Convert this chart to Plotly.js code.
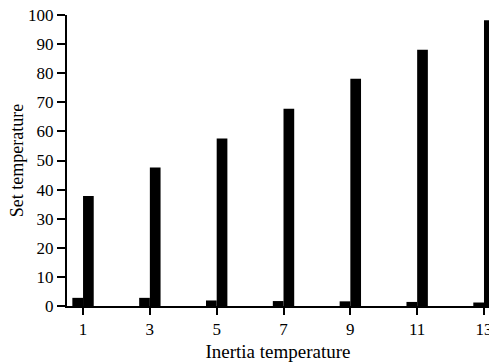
<!DOCTYPE html>
<html>
<head>
<meta charset="utf-8">
<script src="https://cdn.plot.ly/plotly-3.0.1.min.js"></script>
<style>html,body{margin:0;padding:0;background:#fff;overflow:hidden;}#chart{width:500px;height:362px;}</style>
</head>
<body>
<div id="chart"></div>
<script>
var categories = [1, 3, 5, 7, 9, 11, 13];
var inertiaValues = [2.8, 2.8, 1.9, 1.7, 1.6, 1.4, 1.2];
var setValues = [37.8, 47.6, 57.6, 67.8, 78.1, 88.1, 98.2];
var yTicks = [0, 10, 20, 30, 40, 50, 60, 70, 80, 90, 100];

var tickFont = {family: 'Liberation Serif, Times New Roman, serif', size: 17, color: '#000'};
var xTitleFont = {family: 'Liberation Serif, Times New Roman, serif', size: 19, color: '#000'};
var yTitleFont = {family: 'Liberation Serif, Times New Roman, serif', size: 18, color: '#000'};

var traces = [
  {type: 'bar', x: categories, y: inertiaValues, marker: {color: '#000'}, name: 'Inertia', width: 0.32, offset: -0.32},
  {type: 'bar', x: categories, y: setValues, marker: {color: '#000'}, name: 'Set', width: 0.32, offset: 0}
];

var layout = {
  width: 500, height: 362,
  margin: {l: 67, r: 11, t: 15, b: 56},
  paper_bgcolor: '#fff', plot_bgcolor: '#fff',
  showlegend: false,
  barmode: 'group',
  font: tickFont,
  xaxis: {
    range: [0.52, 13.15],
    tickvals: categories,
    ticktext: categories.map(String),
    ticks: 'outside', ticklen: 7, tickwidth: 2, tickcolor: '#000',
    showline: true, linecolor: '#000', linewidth: 2,
    showgrid: false, zeroline: false,
    tickfont: tickFont,
    title: {text: 'Inertia temperature', font: xTitleFont, standoff: 6}
  },
  yaxis: {
    range: [0, 100],
    tickvals: yTicks,
    ticks: 'outside', ticklen: 8, tickwidth: 2, tickcolor: '#000',
    showline: true, linecolor: '#000', linewidth: 2,
    showgrid: false, zeroline: false,
    tickfont: tickFont,
    title: {text: 'Set temperature', font: yTitleFont, standoff: 0}
  }
};

Plotly.newPlot('chart', traces, layout, {displayModeBar: false, staticPlot: true});
</script>
</body>
</html>
